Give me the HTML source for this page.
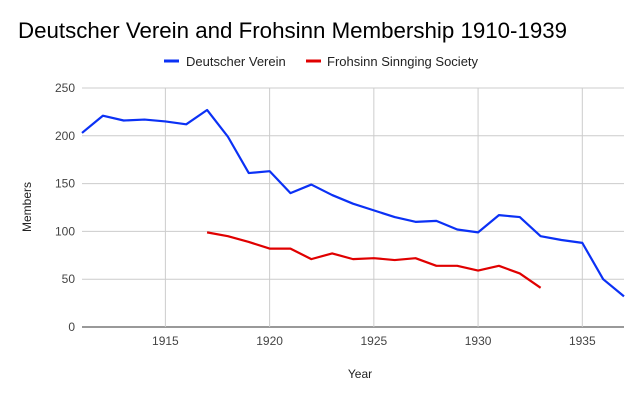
<!DOCTYPE html>
<html><head><meta charset="utf-8"><style>
body{margin:0;background:#fff;font-family:"Liberation Sans",Arial,sans-serif}
svg text{font-family:"Liberation Sans",Arial,sans-serif}
</style></head><body>
<svg id="c" width="644" height="400" xmlns="http://www.w3.org/2000/svg">
<rect width="644" height="400" fill="#fff"/>
<text x="18" y="38" font-size="22.3" fill="#000">Deutscher Verein and Frohsinn Membership 1910-1939</text>
<g>
<g><line x1="164" y1="61" x2="179" y2="61" stroke="#0b31f5" stroke-width="3"/><text x="186" y="66" font-size="13" fill="#222">Deutscher Verein</text></g>
<g><line x1="306" y1="61" x2="321" y2="61" stroke="#e00000" stroke-width="3"/><text x="327" y="66" font-size="13" fill="#222">Frohsinn Sinnging Society</text></g>
</g>
<g id="grid"></g><g id="axes"></g><g id="series"></g>
<text x="360" y="378" font-size="12" text-anchor="middle" fill="#222">Year</text>
<text transform="translate(31,207) rotate(-90)" font-size="12" text-anchor="middle" fill="#222">Members</text>
</svg>
<script>
const blueYears=[1911,1912,1913,1914,1915,1916,1917,1918,1919,1920,1921,1922,1923,1924,1925,1926,1927,1928,1929,1930,1931,1932,1933,1934,1935,1936,1937];
const blueValues=[203,221,216,217,215,212,227,199,161,163,140,149,138,129,122,115,110,111,102,99,117,115,95,91,88,50,32];
const redYears=[1917,1918,1919,1920,1921,1922,1923,1924,1925,1926,1927,1928,1929,1930,1931,1932,1933];
const redValues=[99,95,89,82,82,71,77,71,72,70,72,64,64,59,64,56,41];
const xTicks=[1915,1920,1925,1930,1935];
const yTicks=[0,50,100,150,200,250];
const NS="http://www.w3.org/2000/svg";
const L=82,R=624,T=88,B=327,x0=1911,x1=1937,yMax=250;
const xs=v=>L+(v-x0)/(x1-x0)*(R-L);
const ys=v=>B-v/yMax*(B-T);
function mk(tag,attrs,parent){const e=document.createElementNS(NS,tag);for(const k in attrs)e.setAttribute(k,attrs[k]);parent.appendChild(e);return e;}
const grid=document.getElementById('grid'),axes=document.getElementById('axes'),series=document.getElementById('series');
yTicks.forEach(t=>{
 const l=mk('line',{x1:L,x2:R,y1:ys(t),y2:ys(t),stroke:t===0?'#333':'#ccc','stroke-width':1},grid);
 
 
 const tx=mk('text',{x:L-7,y:ys(t)+4,'font-size':12,'text-anchor':'end',fill:'#444'},axes);
 tx.textContent=t;
 
 
});
xTicks.forEach(t=>{
 const l=mk('line',{x1:xs(t),x2:xs(t),y1:T,y2:B,stroke:'#ccc','stroke-width':1},grid);
 
 
 const tx=mk('text',{x:xs(t),y:B+18,'font-size':12,'text-anchor':'middle',fill:'#444'},axes);
 tx.textContent=t;
 
 
});
function line(xv,yv,color,name){
 const pts=xv.map((x,i)=>xs(x)+','+ys(yv[i])).join(' ');
 const p=mk('polyline',{points:pts,fill:'none',stroke:color,'stroke-width':2.2,'stroke-linejoin':'round'},series);
 
 
}
line(blueYears,blueValues,'#0b31f5','deutscher-verein-line');
line(redYears,redValues,'#e00000','frohsinn-line');
</script>
</body></html>
